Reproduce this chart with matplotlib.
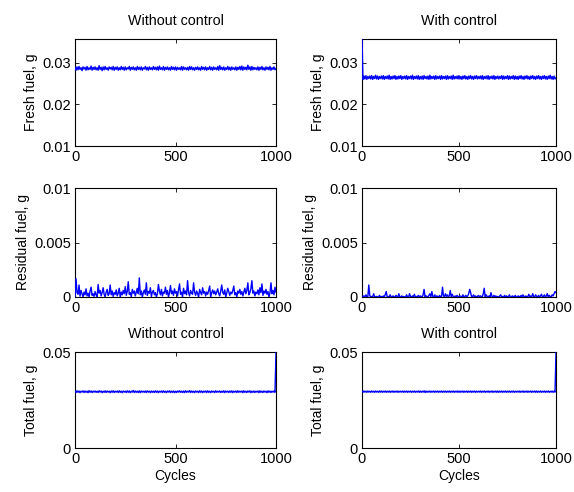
import matplotlib
matplotlib.use("Agg")
import matplotlib.pyplot as plt

plt.rcParams['font.family'] = ['Liberation Sans', 'DejaVu Sans']

# Cycles sampled every 5 cycles
cycles = list(range(0, 1001, 5))

# Fresh fuel without control (units of 1e-4 g)
fresh_without = [
    289,282,290,283,291,284,288,281,290,285,289,282,291,283,288,284,292,282,289,284,
    290,283,288,282,293,284,289,281,290,283,291,284,288,282,290,285,289,283,291,282,
    289,284,290,282,288,283,291,284,289,282,290,283,288,285,291,282,289,284,290,283,
    288,282,291,284,289,283,290,282,288,285,291,283,289,282,290,284,288,283,291,284,
    289,283,290,282,292,284,288,283,291,282,289,284,290,283,288,282,291,284,289,283,
    290,282,289,284,288,283,291,282,290,284,288,283,289,282,291,284,290,283,288,282,
    289,284,290,283,288,282,291,284,289,283,290,282,288,284,291,283,289,282,290,284,
    288,283,291,282,293,284,289,283,290,282,288,284,291,283,289,282,290,284,288,283,
    290,282,289,284,291,283,292,282,290,284,289,283,294,284,290,282,291,283,289,284,
    288,283,290,282,289,284,291,283,288,282,290,284,289,283,291,282,288,284,290,283,
    286]

# Fresh fuel with control (units of 1e-4 g)
fresh_with = [
    360,260,268,261,269,260,267,262,268,261,269,260,267,262,270,261,268,260,267,262,
    268,261,269,260,267,262,268,261,270,260,267,261,268,262,269,260,267,261,268,262,
    269,260,267,262,268,261,269,260,267,262,268,261,270,260,267,262,268,261,269,260,
    267,261,268,260,269,262,267,261,268,260,270,261,267,262,268,260,269,261,267,262,
    268,260,269,261,267,262,268,260,269,261,267,262,268,260,270,261,267,262,268,261,
    269,261,267,260,268,262,269,261,267,260,268,262,269,261,267,260,268,262,269,261,
    267,262,268,261,269,260,267,262,268,261,269,260,267,262,268,261,269,260,267,262,
    268,261,267,262,269,260,268,261,267,262,269,260,268,261,267,262,269,260,268,261,
    267,260,268,262,269,261,267,260,268,262,269,261,267,260,268,262,269,261,267,260,
    268,262,269,261,267,260,268,262,269,261,267,260,268,262,270,261,267,260,268,261,
    264]

# Residual fuel without control (units of 1e-5 g)
residual_without = [
    0,168,40,25,110,8,60,30,0,45,20,75,10,35,0,55,90,15,30,5,
    50,20,0,115,35,60,10,40,85,25,0,45,70,15,30,110,20,55,5,40,
    25,65,10,35,80,0,45,20,60,30,95,15,50,140,25,40,0,70,35,55,
    10,45,80,30,175,20,55,0,40,65,25,130,15,50,35,85,5,45,60,20,
    40,0,30,115,55,20,70,10,45,35,90,25,60,0,40,105,30,55,15,75,
    35,50,10,65,120,25,45,0,80,30,55,20,150,40,10,60,35,25,130,45,
    15,55,30,0,70,40,20,85,35,50,10,45,25,60,100,0,40,65,30,55,
    20,45,75,30,10,55,110,40,25,65,0,35,80,50,15,45,30,60,100,20,
    40,0,55,35,70,25,50,10,45,80,30,60,130,20,40,75,150,35,55,10,
    45,30,65,20,85,40,120,15,55,35,70,25,50,0,40,130,30,60,20,90,
    45]

# Residual fuel with control (units of 1e-5 g)
residual_with = [
    0,5,10,0,20,2,0,110,15,0,5,0,30,0,2,5,0,0,15,0,
    5,0,10,0,25,50,0,5,0,20,0,2,10,0,0,15,5,0,30,0,
    0,10,0,5,0,2,20,0,0,30,5,0,10,0,25,0,5,0,15,0,
    10,5,0,20,70,0,10,5,0,15,30,0,50,5,0,20,0,10,5,0,
    15,0,5,90,10,0,30,5,20,0,10,60,0,25,5,0,10,0,15,5,
    0,10,5,0,20,0,5,15,0,10,30,70,40,0,5,20,0,10,0,5,
    15,0,10,5,0,30,80,0,20,5,0,10,0,40,5,0,15,0,10,0,
    5,0,10,20,0,5,0,15,0,10,0,5,20,0,0,10,5,0,15,0,
    0,10,5,0,15,0,20,5,0,10,0,5,25,0,10,0,30,5,0,20,
    5,0,15,0,10,25,0,5,20,0,10,30,0,15,5,0,20,10,30,50,
    40]

# Total fuel without control (units of 1e-4 g)
total_without = [
    296,289,298,290,297,288,296,291,298,289,297,290,296,288,299,290,297,289,296,291,
    297,290,296,289,298,291,297,288,296,290,298,289,297,291,296,288,297,290,298,289,
    296,291,297,289,298,290,296,288,297,291,296,289,298,290,297,288,296,291,300,289,
    297,290,296,289,298,288,297,291,296,290,297,289,298,291,296,288,297,290,296,289,
    298,290,297,288,296,291,297,289,298,290,296,288,297,291,298,289,296,290,297,288,
    296,289,297,291,298,290,296,289,297,288,298,290,296,291,299,289,297,290,296,288,
    297,291,296,289,298,290,297,288,296,291,297,289,298,290,296,288,297,291,296,289,
    298,290,296,291,297,289,296,290,298,288,297,291,296,289,297,290,298,288,296,291,
    297,289,298,290,296,291,297,288,298,290,296,289,297,291,298,288,296,290,297,289,
    296,291,297,288,298,290,296,289,297,291,296,288,298,290,297,289,296,291,297,290,
    500]

# Total fuel with control (units of 1e-4 g)
total_with = [
    296,290,297,291,296,290,297,291,296,290,297,291,296,290,297,291,296,290,297,291,
    297,290,296,291,297,290,296,291,297,290,296,291,297,290,296,291,297,290,296,291,
    296,291,297,290,296,291,297,290,296,291,297,290,296,291,297,290,296,291,297,290,
    297,290,296,291,298,289,297,290,296,291,297,290,296,291,297,290,296,291,297,290,
    296,291,297,290,296,291,297,290,296,291,297,290,296,291,297,290,296,291,297,290,
    297,290,296,291,297,290,296,291,297,290,296,291,297,290,296,291,297,290,296,291,
    296,291,297,290,296,291,297,290,296,291,297,290,296,291,297,290,296,291,297,290,
    297,290,296,291,297,290,296,291,297,290,296,291,297,290,296,291,297,290,296,291,
    296,291,297,290,296,291,297,290,296,291,297,290,296,291,297,290,296,291,297,290,
    297,290,296,291,297,290,296,291,297,290,296,291,297,290,296,291,297,290,296,291,
    500]

col_titles = ["Without control", "With control"]
row_labels = ["Fresh fuel, g", "Residual fuel, g", "Total fuel, g"]
x_ticks = [0, 500, 1000]
y_ticks = [[0.01, 0.02, 0.03], [0, 0.005, 0.01], [0, 0.05]]
y_ticklabels = [["0.01", "0.02", "0.03"], ["0", "0.005", "0.01"], ["0", "0.05"]]
y_limits = [(0.01, 0.0357), (0, 0.01), (0, 0.05)]

series = [
    [[v * 1e-4 for v in fresh_without], [v * 1e-4 for v in fresh_with]],
    [[v * 1e-5 for v in residual_without], [v * 1e-5 for v in residual_with]],
    [[v * 1e-4 for v in total_without], [v * 1e-4 for v in total_with]],
]

W, H = 574, 492
fig = plt.figure(figsize=(W / 100, H / 100), dpi=100)

col_px = [(75, 276), (362, 556)]
row_px = [(39, 146), (188, 297), (352, 448)]

fs = 9.5
for r in range(3):
    for c in range(2):
        x0, x1 = col_px[c]
        y0, y1 = row_px[r]
        ax = fig.add_axes([x0 / W, (H - y1) / H, (x1 - x0) / W, (y1 - y0) / H])
        ax.plot(cycles, series[r][c], color=(0, 0, 1), lw=1.0, zorder=3)
        ax.set_xlim(0, 1000)
        ax.set_ylim(*y_limits[r])
        ax.set_xticks(x_ticks)
        ax.set_xticklabels([str(t) for t in x_ticks], fontsize=fs + 1)
        ax.set_yticks(y_ticks[r])
        ax.set_yticklabels(y_ticklabels[r], fontsize=fs + 1)
        ax.set_ylabel(row_labels[r], fontsize=fs + 0.5, labelpad=3)
        ax.tick_params(direction='in', length=3, width=0.6, top=True, right=True, pad=3)
        for s in ax.spines.values():
            s.set_linewidth(0.8)
        if r in (0, 2):
            ax.set_title(col_titles[c], fontsize=fs + 0.8, pad=10)
        if r == 2:
            ax.set_xlabel("Cycles", fontsize=fs + 0.5, labelpad=2)

fig.savefig("out.png", dpi=100)
